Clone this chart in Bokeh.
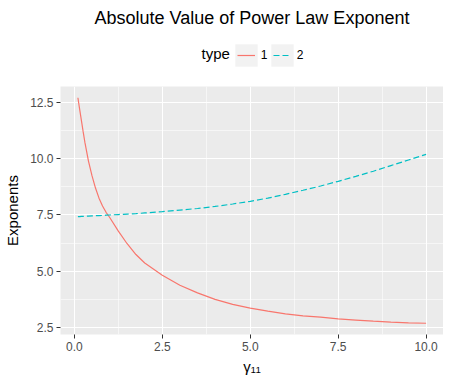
from bokeh.plotting import figure
from bokeh.layouts import column
from bokeh.models import (Range1d, FixedTicker, Label, Legend, LegendItem,
                          ColumnDataSource)
from bokeh.embed import file_html
from bokeh.resources import INLINE

# ---------------- data ----------------
gamma_11 = [0.1, 0.15, 0.2, 0.25, 0.3, 0.4, 0.5, 0.6, 0.7, 0.8, 0.9, 1.0,
            1.25, 1.5, 1.75, 2.0, 2.5, 3.0, 3.5, 4.0, 4.5, 5.0, 5.5, 6.0,
            6.5, 7.0, 7.5, 8.0, 8.5, 9.0, 9.5, 10.0]
exponent_type1 = [12.72, 12.2, 11.7, 11.2, 10.72, 9.9, 9.25, 8.7, 8.25, 7.9,
                  7.62, 7.4, 6.78, 6.22, 5.74, 5.36, 4.82, 4.37, 4.03, 3.74,
                  3.52, 3.35, 3.22, 3.10, 3.01, 2.95, 2.87, 2.82, 2.77, 2.73,
                  2.70, 2.68]
exponent_type2 = [7.43, 7.43, 7.44, 7.44, 7.45, 7.45, 7.46, 7.47, 7.47, 7.48,
                  7.49, 7.50, 7.52, 7.54, 7.56, 7.59, 7.65, 7.72, 7.79, 7.88,
                  7.99, 8.11, 8.25, 8.42, 8.60, 8.79, 9.00, 9.22, 9.45, 9.70,
                  9.95, 10.20]
type_labels = ["1", "2"]
x_ticks = [0.0, 2.5, 5.0, 7.5, 10.0]
x_tick_labels = ["0.0", "2.5", "5.0", "7.5", "10.0"]
x_minor = [1.25, 3.75, 6.25, 8.75]
y_ticks = [2.5, 5.0, 7.5, 10.0, 12.5]
y_tick_labels = ["2.5", "5.0", "7.5", "10.0", "12.5"]
y_minor = [3.75, 6.25, 8.75, 11.25]

title_text = "Absolute Value of Power Law Exponent"
x_label = "\u03b3\u2081\u2081"
y_label = "Exponents"
legend_title = "type"

colors = ["#F8766D", "#00BFC4"]
dashes = ["solid", "6 3"]
FONT = "Liberation Sans"
FW, FH = 383, 248
LEFT = 60
HEAD_H = 86
NAN = float("nan")

# ---------------- header: title + legend ----------------
head = figure(frame_width=FW, frame_height=HEAD_H, x_range=Range1d(0, FW),
              y_range=Range1d(0, HEAD_H), output_backend="svg",
              toolbar_location=None, x_axis_location=None,
              y_axis_location=None, min_border_left=LEFT,
              min_border_right=0, min_border_top=0, min_border_bottom=0)
head.grid.visible = False
head.outline_line_color = None
head.background_fill_color = "white"
head.border_fill_color = "white"

head.add_layout(Label(x=FW / 2, y=HEAD_H - 17.7, text=title_text,
                      text_align="center", text_baseline="alphabetic",
                      text_font=FONT, text_font_size="18px",
                      text_color="black"))
head.add_layout(Label(x=141, y=HEAD_H - 52.5, text=legend_title,
                      text_align="left", text_baseline="alphabetic",
                      text_font=FONT, text_font_size="15px",
                      text_color="black"))

# legend proxies (NaN data: nothing is drawn, only the legend keys)
box_src = ColumnDataSource(dict(left=[NAN], right=[NAN], top=[NAN],
                                bottom=[NAN]))
rbox = head.quad(left="left", right="right", top="top", bottom="bottom",
                 source=box_src, fill_color="#F2F2F2", line_color=None)
proxies = []
for c, d in zip(colors, dashes):
    proxies.append(head.line(x=[NAN, NAN], y=[NAN, NAN], line_color=c,
                             line_width=1.2, line_dash=d))

leg_a = Legend(items=[LegendItem(label=type_labels[0], renderers=[rbox]),
                      LegendItem(label=type_labels[1], renderers=[rbox])],
               location=(171.7, 17), orientation="horizontal",
               glyph_width=28, glyph_height=28, label_standoff=1, spacing=0,
               padding=0, margin=0, label_width=7, label_height=20,
               background_fill_alpha=0, border_line_alpha=0,
               label_text_font=FONT, label_text_font_size="12px",
               label_text_color="black")
leg_b = Legend(items=[LegendItem(label=" ", renderers=[proxies[0]]),
                      LegendItem(label=" ", renderers=[proxies[1]])],
               location=(176.7, 17), orientation="horizontal",
               glyph_width=18, glyph_height=28, label_standoff=6, spacing=5,
               padding=0, margin=0, label_width=7, label_height=20,
               background_fill_alpha=0, border_line_alpha=0,
               label_text_font=FONT, label_text_font_size="1px")
head.add_layout(leg_a)
head.add_layout(leg_b)

# ---------------- main panel ----------------
all_y = exponent_type1 + exponent_type2
xmin, xmax = min(gamma_11), max(gamma_11)
ymin, ymax = min(all_y), max(all_y)
dx = (xmax - xmin) * 0.05
dy = (ymax - ymin) * 0.05

p = figure(frame_width=FW, frame_height=FH,
           x_range=Range1d(xmin - dx, xmax + dx),
           y_range=Range1d(ymin - dy, ymax + dy),
           output_backend="svg", toolbar_location=None,
           min_border_left=LEFT, min_border_right=0,
           min_border_top=0, min_border_bottom=44)
p.background_fill_color = "#EBEBEB"
p.border_fill_color = "white"
p.outline_line_color = None

p.xaxis.ticker = FixedTicker(ticks=x_ticks, minor_ticks=x_minor)
p.yaxis.ticker = FixedTicker(ticks=y_ticks, minor_ticks=y_minor)
p.xaxis.major_label_overrides = dict(zip(x_ticks, x_tick_labels))
p.yaxis.major_label_overrides = dict(zip(y_ticks, y_tick_labels))
p.xaxis.axis_label = x_label
p.yaxis.axis_label = y_label

for ax in (p.xaxis[0], p.yaxis[0]):
    ax.axis_line_color = None
    ax.major_tick_line_color = "#333333"
    ax.major_tick_line_width = 1
    ax.major_tick_out = 4
    ax.major_tick_in = 0
    ax.minor_tick_line_color = None
    ax.major_label_text_font = FONT
    ax.major_label_text_font_size = "12px"
    ax.major_label_text_color = "#4D4D4D"
    ax.major_label_standoff = 3
    ax.axis_label_text_font = FONT
    ax.axis_label_text_font_size = "15px"
    ax.axis_label_text_font_style = "normal"
    ax.axis_label_text_color = "black"
p.xaxis.axis_label_standoff = 4
p.yaxis.axis_label_standoff = 6

for g in (p.xgrid[0], p.ygrid[0]):
    g.grid_line_color = "white"
    g.grid_line_width = 1.1
    g.minor_grid_line_color = "white"
    g.minor_grid_line_width = 0.55

src = ColumnDataSource(dict(x=gamma_11, y1=exponent_type1, y2=exponent_type2))
for col, c, d in zip(["y1", "y2"], colors, dashes):
    p.line("x", col, source=src, line_color=c, line_width=1.2, line_dash=d)

layout = column(head, p, spacing=0)
open("out.html", "w").write(file_html(layout, INLINE))
